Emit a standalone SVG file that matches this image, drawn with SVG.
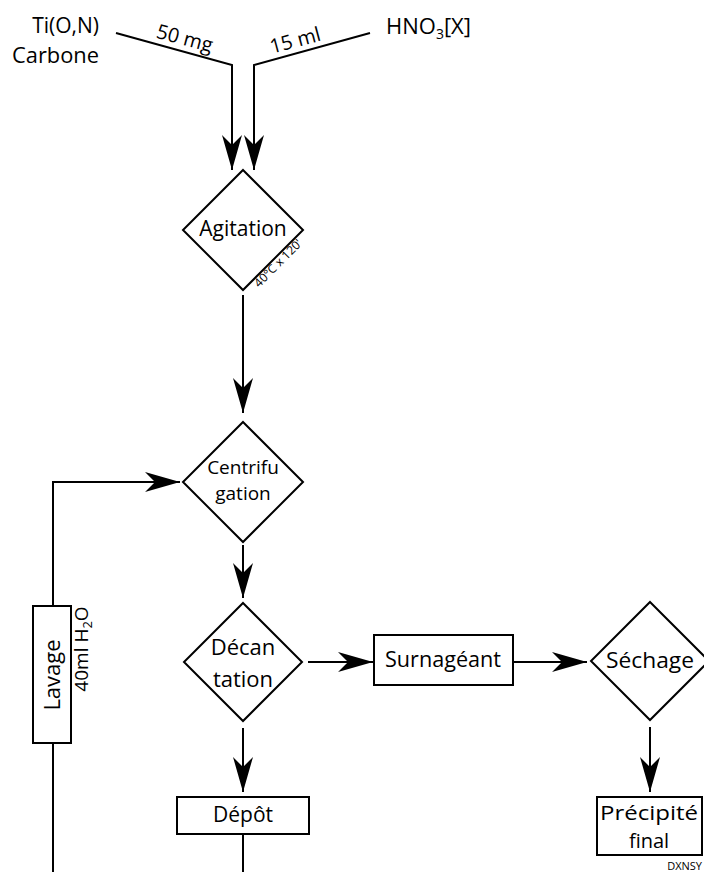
<svg xmlns="http://www.w3.org/2000/svg" width="704" height="872" viewBox="0 0 704 872">
<defs>
<style>
.s{fill:none;stroke:#000;stroke-width:2}
.b{fill:#fff;stroke:#000;stroke-width:2}
.t{font-family:"Open Sans","Liberation Sans",sans-serif;font-size:21px;fill:#000;text-anchor:middle}
.c{marker-end:url(#ah)}
</style>
<marker id="ah" viewBox="-36 -11 37 22" refX="0" refY="0" markerWidth="37" markerHeight="22" markerUnits="userSpaceOnUse" orient="auto">
<path d="M0,0 L-35,-10 L-25,0 L-35,10 Z" fill="#000"/>
</marker>
</defs>
<rect width="704" height="872" fill="#fff"/>
<g id="connectors">
<polyline class="s c" points="116,33 232,65 232,170"/>
<polyline class="s c" points="370,33 254,65 254,170"/>
<line class="s c" x1="243" y1="295" x2="243" y2="413"/>
<polyline class="s c" points="53,606 53,482 180,482"/>
<line class="s c" x1="243" y1="545" x2="243" y2="598"/>
<line class="s c" x1="308" y1="662" x2="373" y2="662"/>
<line class="s c" x1="514" y1="662" x2="587" y2="662"/>
<line class="s c" x1="243" y1="728" x2="243" y2="792"/>
<line class="s c" x1="650" y1="727" x2="650" y2="792"/>
<line class="s" x1="243" y1="834" x2="243" y2="872"/>
<line class="s" x1="53" y1="743" x2="53" y2="872"/>
<text class="t" transform="translate(183,45) rotate(15)" style="font-size:20px">50 mg</text>
<text class="t" transform="translate(297,47) rotate(-15)" style="font-size:20px">15 ml</text>
</g>
<g id="input-tion">
<text class="t" x="99" y="33" style="text-anchor:end">Ti(O,N)</text>
<text class="t" x="99" y="63" style="text-anchor:end" textLength="87" lengthAdjust="spacingAndGlyphs">Carbone</text>
</g>
<g id="input-hno3">
<text class="t" x="386" y="34" style="text-anchor:start;font-size:22px">HNO<tspan font-size="14" dy="5">3</tspan><tspan dy="-5">[X]</tspan></text>
</g>
<g id="agitation">
<polygon class="b" points="243,170 303,230 243,290 183,230"/>
<text class="t" x="243" y="236">Agitation</text>
<text class="t" transform="translate(281,266) rotate(-45)" style="font-size:12px">40°C x 120'</text>
</g>
<g id="centrifugation">
<polygon class="b" points="243,422 303,482 243,542 183,482"/>
<text class="t" x="243" y="474" style="font-size:19px">Centrifu</text>
<text class="t" x="243" y="500" style="font-size:19px">gation</text>
</g>
<g id="decantation">
<polygon class="b" points="243,603 302,662 243,721 184,662"/>
<text class="t" x="243" y="655" style="font-size:22px">Décan</text>
<text class="t" x="243" y="687" style="font-size:22px">tation</text>
</g>
<g id="surnageant">
<rect class="b" x="374" y="635" width="139" height="50"/>
<text class="t" x="443" y="667" textLength="116" lengthAdjust="spacingAndGlyphs">Surnagéant</text>
</g>
<g id="sechage">
<polygon class="b" points="650,602 709,661 650,720 591,661"/>
<text class="t" x="650" y="668" textLength="88" lengthAdjust="spacingAndGlyphs" style="font-size:22px">Séchage</text>
</g>
<g id="depot">
<rect class="b" x="177" y="797" width="132" height="37"/>
<text class="t" x="243" y="822">Dépôt</text>
</g>
<g id="precipite">
<rect class="b" x="597" y="797" width="105" height="58"/>
<text class="t" x="649" y="820" textLength="98" lengthAdjust="spacingAndGlyphs" style="font-size:20px">Précipité</text>
<text class="t" x="649" y="848" style="font-size:20px">final</text>
</g>
<g id="lavage">
<rect class="b" x="33" y="606" width="38" height="137"/>
<text class="t" transform="translate(60,675) rotate(-90)" style="font-size:22px">Lavage</text>
<text class="t" transform="translate(88,649) rotate(-90)" style="font-size:19px">40ml H<tspan font-size="13" dy="4">2</tspan><tspan dy="-4">O</tspan></text>
</g>
<text class="t" x="702" y="870" style="font-size:11px;text-anchor:end">DXNSY</text>
</svg>
